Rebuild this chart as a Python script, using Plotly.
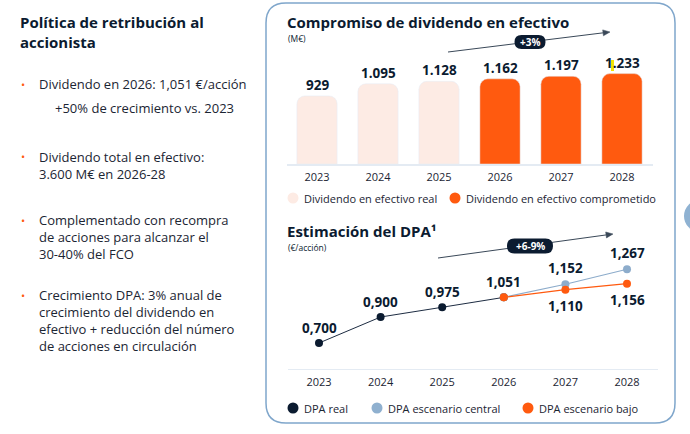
import math
import plotly.graph_objects as go

W, H = 690, 434

# ---------------- data ----------------
years = ["2023", "2024", "2025", "2026", "2027", "2028"]
cash_years_real = ["2023", "2024", "2025"]
cash_real = [929, 1095, 1128]
cash_years_committed = ["2026", "2027", "2028"]
cash_committed = [1162, 1197, 1233]

dpa_years_real = ["2023", "2024", "2025", "2026"]
dpa_real = [0.700, 0.900, 0.975, 1.051]
dpa_years_proj = ["2026", "2027", "2028"]
dpa_central = [1.051, 1.152, 1.267]
dpa_low = [1.051, 1.110, 1.156]

# ---------------- style ----------------
FONT = "Open Sans"
NAVY = "#0b1b30"
TXT = "#1b2533"
ORANGE = "#ff5a0f"
PALE = "#fdebe4"
LIGHTBLUE = "#8daccb"
BORDER = "#7fa6cb"


def px(x):
    return x / W


def py(y):
    return 1 - y / H


def thousands(v):
    return f"{v:,}".replace(",", ".")


def dec(v):
    return f"{v:.3f}".replace(".", ",")


def cat(y):
    return years.index(y)


def rrect(x0, y0, x1, y1, r):
    p = [
        f"M{px(x0 + r)},{py(y0)}",
        f"L{px(x1 - r)},{py(y0)}",
        f"Q{px(x1)},{py(y0)} {px(x1)},{py(y0 + r)}",
        f"L{px(x1)},{py(y1 - r)}",
        f"Q{px(x1)},{py(y1)} {px(x1 - r)},{py(y1)}",
        f"L{px(x0 + r)},{py(y1)}",
        f"Q{px(x0)},{py(y1)} {px(x0)},{py(y1 - r)}",
        f"L{px(x0)},{py(y0 + r)}",
        f"Q{px(x0)},{py(y0)} {px(x0 + r)},{py(y0)}",
        "Z",
    ]
    return " ".join(p)


fig = go.Figure()

# ---------------- bar chart ----------------
fig.add_trace(go.Bar(x=cash_years_real, y=cash_real, marker_color=PALE,
                     name="Dividendo en efectivo real", xaxis="x", yaxis="y",
                     hoverinfo="skip"))
fig.add_trace(go.Bar(x=cash_years_committed, y=cash_committed, marker_color=ORANGE,
                     name="Dividendo en efectivo comprometido", xaxis="x", yaxis="y",
                     hoverinfo="skip"))

# ---------------- line chart ----------------
fig.add_trace(go.Scatter(x=dpa_years_real, y=dpa_real, mode="lines+markers",
                         line=dict(color="#1d2c42", width=1),
                         marker=dict(color=NAVY, size=8),
                         name="DPA real", xaxis="x2", yaxis="y2"))
fig.add_trace(go.Scatter(x=dpa_years_proj, y=dpa_central, mode="lines+markers",
                         line=dict(color=LIGHTBLUE, width=1.2),
                         marker=dict(color=LIGHTBLUE, size=8),
                         name="DPA escenario central", xaxis="x2", yaxis="y2"))
fig.add_trace(go.Scatter(x=dpa_years_proj, y=dpa_low, mode="lines+markers",
                         line=dict(color=ORANGE, width=1.2),
                         marker=dict(color=ORANGE, size=8),
                         name="DPA escenario bajo", xaxis="x2", yaxis="y2"))

bar_scale = 0.0733  # px per unit
line_scale = 130.0  # px per unit

annotations = []
shapes = []

# bar value labels
for xs, vs in ((cash_years_real, cash_real), (cash_years_committed, cash_committed)):
    for x, v in zip(xs, vs):
        annotations.append(dict(x=cat(x), y=v, xref="x", yref="y", text=f"<b>{thousands(v)}</b>",
                                showarrow=False, yanchor="middle", yshift=11,
                                font=dict(family=FONT, size=13.5, color=NAVY)))

# line value labels
for x, v in zip(dpa_years_real, dpa_real):
    annotations.append(dict(x=cat(x), y=v, xref="x2", yref="y2", text=f"<b>{dec(v)}</b>",
                            showarrow=False, yanchor="middle", yshift=15,
                            font=dict(family=FONT, size=13.5, color=NAVY)))
for x, v in zip(dpa_years_proj[1:], dpa_central[1:]):
    annotations.append(dict(x=cat(x), y=v, xref="x2", yref="y2", text=f"<b>{dec(v)}</b>",
                            showarrow=False, yanchor="middle", yshift=16,
                            font=dict(family=FONT, size=13.5, color=NAVY)))
for x, v in zip(dpa_years_proj[1:], dpa_low[1:]):
    annotations.append(dict(x=cat(x), y=v, xref="x2", yref="y2", text=f"<b>{dec(v)}</b>",
                            showarrow=False, yanchor="middle", yshift=-16,
                            font=dict(family=FONT, size=13.5, color=NAVY)))


def txt(x, y, s, size=12, color=TXT, bold=False, anchor="left"):
    annotations.append(dict(x=px(x), y=py(y), xref="paper", yref="paper",
                            text=f"<b>{s}</b>" if bold else s, showarrow=False,
                            xanchor=anchor, yanchor="middle", align="left",
                            font=dict(family=FONT, size=size, color=color)))


# ---------------- left text ----------------
txt(18, 32, "Política de retribución al<br>accionista", size=15, color=NAVY, bold=True)

BODY = 13
bullets = [
    (84, ["Dividendo en 2026: 1,051 €/acción"]),
    (157, ["Dividendo total en efectivo:", "3.600 M€ en 2026-28"]),
    (220, ["Complementado con recompra", "de acciones para alcanzar el", "30-40% del FCO"]),
    (295, ["Crecimiento DPA: 3% anual de", "crecimiento del dividendo en",
           "efectivo + reducción del número", "de acciones en circulación"]),
]
lh = BODY * 1.3
for y0, lines in bullets:
    txt(19, y0, "•", size=11, color=ORANGE)
    n = len(lines)
    txt(37, y0 + (n - 1) * lh / 2, "<br>".join(lines), size=BODY)
txt(53, 108, "+50% de crecimiento vs. 2023", size=BODY)

# ---------------- panel ----------------
shapes.append(dict(type="path", xref="paper", yref="paper", path=rrect(266, 3, 675, 423, 20),
                   line=dict(color=BORDER, width=1.5), fillcolor="rgba(0,0,0,0)", layer="below"))
shapes.append(dict(type="circle", xref="paper", yref="paper", x0=px(684), x1=px(716),
                   y0=py(232), y1=py(200), fillcolor="#8fb2d2", line=dict(width=0)))

# titles
txt(285, 22.5, "Compromiso de dividendo en efectivo", size=15, color=NAVY, bold=True)
txt(286, 38.5, "(M€)", size=8.5, color=NAVY)
txt(285, 231, "Estimación del DPA¹", size=15, color=NAVY, bold=True)
txt(286, 247, "(€/acción)", size=8.5, color=NAVY)

# yellow highlight mark
shapes.append(dict(type="rect", xref="paper", yref="paper", x0=px(611), x1=px(614),
                   y0=py(71), y1=py(60), fillcolor="#f4e400", line=dict(width=0), layer="below"))


# arrows + badges
def arrow(x0, y0, x1, y1, color="#3a4858"):
    dx, dy = x1 - x0, y1 - y0
    L = math.hypot(dx, dy)
    ux, uy = dx / L, dy / L
    nx, ny = -uy, ux
    hl, hw = 7, 3
    bx, by = x1 - hl * ux, y1 - hl * uy
    shapes.append(dict(type="path", xref="paper", yref="paper",
                       path=f"M{px(x0)},{py(y0)} L{px(bx)},{py(by)}",
                       line=dict(color=color, width=1)))
    shapes.append(dict(type="path", xref="paper", yref="paper",
                       path=(f"M{px(x1)},{py(y1)} L{px(bx + hw * nx)},{py(by + hw * ny)} "
                             f"L{px(bx - hw * nx)},{py(by - hw * ny)} Z"),
                       fillcolor=color, line=dict(color=color, width=0.5)))


def badge(cx, cy, w, h, label):
    shapes.append(dict(type="path", xref="paper", yref="paper",
                       path=rrect(cx - w / 2, cy - h / 2, cx + w / 2, cy + h / 2, h / 2),
                       fillcolor=NAVY, line=dict(width=0)))
    txt(cx, cy, label, size=10, color="white", bold=True, anchor="center")


arrow(448, 52, 610, 32)
badge(530, 42, 31, 14, "+3%")
arrow(438, 258, 613, 234)
badge(530, 246, 46, 15, "+6-9%")


# ---------------- manual legends ----------------
def legend_item(cx, cy, color, label):
    shapes.append(dict(type="circle", xref="paper", yref="paper",
                       x0=px(cx - 5.5), x1=px(cx + 5.5), y0=py(cy + 5.5), y1=py(cy - 5.5),
                       fillcolor=color, line=dict(width=0)))
    txt(cx + 9, cy, label, size=11, color=TXT)


legend_item(293, 198, PALE, "Dividendo en efectivo real")
legend_item(455, 198, ORANGE, "Dividendo en efectivo comprometido")
legend_item(293, 408, NAVY, "DPA real")
legend_item(377, 408, "#8fb0cf", "DPA escenario central")
legend_item(528, 408, ORANGE, "DPA escenario bajo")

hidden_y = dict(showgrid=False, zeroline=False, showline=False, showticklabels=False, ticks="")

bar_top_px = 60
line_top_px = 250
fig.update_layout(
    width=W, height=H, margin=dict(l=0, r=0, t=0, b=0),
    paper_bgcolor="white", plot_bgcolor="rgba(0,0,0,0)",
    showlegend=False, barmode="overlay", barcornerradius=8,
    xaxis=dict(domain=[px(286.5), px(652.5)], type="category", categoryorder="array",
               categoryarray=years, range=[-0.5, 5.5], showgrid=False, zeroline=False,
               showline=True, linecolor="#e4ebf3", linewidth=2, ticks="",
               tickfont=dict(family=FONT, size=11, color=TXT), anchor="y",
               ticklabelstandoff=2),
    yaxis=dict(domain=[py(164), py(bar_top_px)], range=[0, (164 - bar_top_px) / bar_scale],
               anchor="x", **hidden_y),
    xaxis2=dict(domain=[px(288.2), px(657.8)], type="category", categoryorder="array",
                categoryarray=years, range=[-0.5, 5.5], showgrid=False, zeroline=False,
                showline=True, linecolor="#e4ebf3", linewidth=1, ticks="",
                tickfont=dict(family=FONT, size=11, color=TXT), anchor="y2",
                ticklabelstandoff=3),
    yaxis2=dict(domain=[py(369), py(line_top_px)],
                range=[0.5, 0.5 + (369 - line_top_px) / line_scale],
                anchor="x2", **hidden_y),
    bargap=0.34,
    annotations=annotations, shapes=shapes,
)

fig.write_html("out.html")
